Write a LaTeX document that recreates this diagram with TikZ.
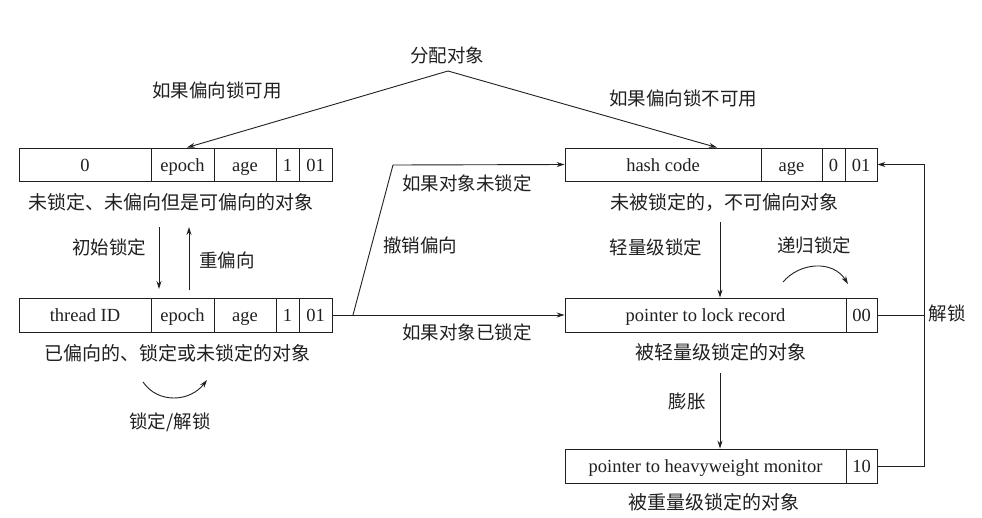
\documentclass[tikz,border=0pt]{standalone}
\usepackage{fontspec}
\setmainfont{Liberation Serif}
\newfontfamily\cjk{Noto Sans CJK SC}
\usetikzlibrary{arrows.meta,calc}
\definecolor{ink}{HTML}{202020}
\begin{document}
\begin{tikzpicture}[x=1pt,y=-1pt,
  line width=0.9pt, draw=ink,
  arr/.style={-{Stealth[length=8pt,width=5pt]}},
  cell/.style={draw=ink,inner sep=0pt,minimum height=33pt,text height=15pt,text depth=2pt,
               text=ink,font=\fontsize{18.5}{20}\selectfont},
  lbl/.style={inner sep=0pt,text=ink,font=\fontsize{18.5}{20}\selectfont\cjk},
  boxlbl/.style={inner sep=0pt,text=ink,font=\fontsize{19}{21}\selectfont\cjk},
]
\useasboundingbox[fill=white] (0,0) rectangle (982,517);

% Box A: unlocked, biasable
\node[cell,minimum width=132] (a1) at (85,164.5) {0};
\node[cell,minimum width=63] (a2) at (182.5,164.5) {epoch};
\node[cell,minimum width=62] (a3) at (245,164.5) {age};
\node[cell,minimum width=23] (a4) at (287.5,164.5) {1};
\node[cell,minimum width=33] (a5) at (315.5,164.5) {01};
\node[boxlbl] (la) at (171,202) {未锁定、未偏向但是可偏向的对象};

% Box B: biased
\node[cell,minimum width=132,minimum height=34] (b1) at (85,315) {thread ID};
\node[cell,minimum width=63,minimum height=34] (b2) at (182.5,315) {epoch};
\node[cell,minimum width=62,minimum height=34] (b3) at (245,315) {age};
\node[cell,minimum width=23,minimum height=34] (b4) at (287.5,315) {1};
\node[cell,minimum width=33,minimum height=34] (b5) at (315.5,315) {01};
\node[boxlbl] (lb) at (177,353) {已偏向的、锁定或未锁定的对象};

% Box C: unlocked, not biasable
\node[cell,minimum width=196] (c1) at (663,164.5) {hash code};
\node[cell,minimum width=61] (c2) at (791.5,164.5) {age};
\node[cell,minimum width=23] (c3) at (833.5,164.5) {0};
\node[cell,minimum width=32] (c4) at (861,164.5) {01};
\node[boxlbl] (lc) at (724,202) {未被锁定的，不可偏向对象};

% Box D: lightweight locked
\node[cell,minimum width=281,minimum height=34] (d1) at (705.5,315) {pointer to lock record};
\node[cell,minimum width=31,minimum height=34] (d2) at (861.5,315) {00};
\node[boxlbl] (ld) at (721,352) {被轻量级锁定的对象};

% Box E: heavyweight locked
\node[cell,minimum width=281,minimum height=34] (e1) at (705.5,466) {pointer to heavyweight monitor};
\node[cell,minimum width=31,minimum height=34] (e2) at (861.5,466) {10};
\node[boxlbl] (le) at (714,502) {被重量级锁定的对象};

% labels
\node[lbl] (alloc) at (447,55) {分配对象};
\node[lbl] (t1) at (217,90) {如果偏向锁可用};
\node[lbl] (t2) at (683,98) {如果偏向锁不可用};
\node[lbl] (t3) at (109,247) {初始锁定};
\node[lbl] (t4) at (227,260) {重偏向};
\node[lbl] (t5) at (170,422) {锁定/解锁};
\node[lbl] (t6) at (467,183) {如果对象未锁定};
\node[lbl] (t7) at (420,245) {撤销偏向};
\node[lbl] (t8) at (467,332) {如果对象已锁定};
\node[lbl] (t9) at (656,247) {轻量级锁定};
\node[lbl] (t10) at (814,245) {递归锁定};
\node[lbl] (t11) at (687,402) {膨胀};
\node[lbl] (t12) at (947,313) {解锁};

% coordinates for free ends
\coordinate (apex) at (448,71);
\coordinate (dnA) at (159,227);
\coordinate (dnB) at (159,289);
\coordinate (upB) at (189,290);
\coordinate (upA) at (189,227);
\coordinate (luS) at (143,382);
\coordinate (luE) at (207,380);
\coordinate (rcS) at (783,282);
\coordinate (rcE) at (848,284);
\coordinate (rv) at (353,315);
\coordinate (rt) at (393,165);
\coordinate (lk) at (720,222);
\coordinate (inf) at (720,373);
\coordinate (rx) at (924,0);

% connectors
\draw[arr] (apex) -- ([xshift=4.5]a2.north);
\draw[arr] (apex) -- ([xshift=54]c1.north);
\draw[arr] (dnA) -- (dnB);
\draw[arr] (upB) -- (upA);
\draw[arr] (luS) .. controls (158,404) and (190,402) .. (luE);
\draw[arr] (rcS) .. controls (800,262) and (833,260) .. (rcE);
\draw[arr] (b5.east) -- (d1.west);
\draw[arr] (rv) -- (rt) -- (c1.west);
\draw[arr] (lk) -- (lk |- d1.north);
\draw[arr] (inf) -- (inf |- e1.north);
\draw[arr] (e2.east) -| (rx |- c4.east) -- (c4.east);
\draw (d2.east) -- (d2.east -| rx);
\end{tikzpicture}
\end{document}
